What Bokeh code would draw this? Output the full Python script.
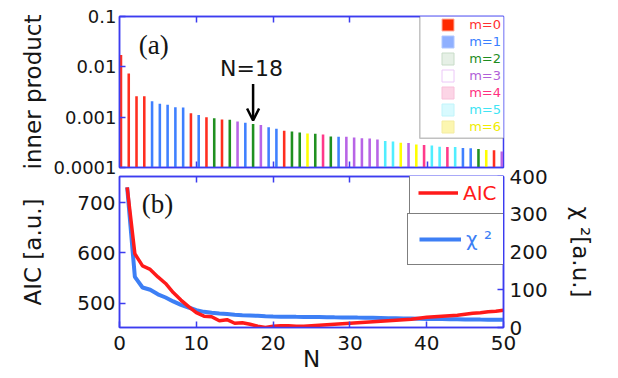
from bokeh.plotting import figure
from bokeh.layouts import column
from bokeh.models import (Range1d, LinearAxis, LogAxis, FixedTicker, Legend, LegendItem,
                          BoxAnnotation, Label, Arrow, OpenHead, ColumnDataSource)
from bokeh.embed import file_html
from bokeh.resources import INLINE

# ---------------- data: panel (a) ----------------
n_bars = list(range(1, 51))
inner_product = [0.0171, 0.00736, 0.00259, 0.00259, 0.00206, 0.00185, 0.00177, 0.00158, 0.00156, 0.0012,
                 0.00111, 0.001, 0.000955, 0.0009, 0.00089, 0.00082, 0.000775, 0.000728, 0.000695, 0.000628,
                 0.00059, 0.000538, 0.00052, 0.000496, 0.000472, 0.000466, 0.000451, 0.000411, 0.000406, 0.000406,
                 0.000393, 0.00038, 0.000375, 0.000358, 0.000337, 0.000327, 0.000312, 0.000308, 0.000288, 0.000281,
                 0.000275, 0.000259, 0.000256, 0.000256, 0.000244, 0.00024, 0.000233, 0.000223, 0.00022, 0.000209]
m_index = [0, 0, 0, 0, 1, 1, 1, 1, 1, 0,
           1, 0, 2, 0, 2, 3, 1, 2, 3, 1,
           1, 0, 2, 2, 6, 2, 4, 2, 1, 3,
           3, 3, 3, 3, 5, 5, 6, 3, 6, 4,
           5, 5, 4, 5, 1, 1, 2, 6, 0, 3]
m_labels = ["m=0", "m=1", "m=2", "m=3", "m=4", "m=5", "m=6"]
bar_palette = ["#ff2e1f", "#3f80ff", "#209020", "#b864e6", "#ff3a8a", "#50eeff", "#ffff00"]
swatch_fill = ["#ff2a00", "#8fb0ff", "#e6f0e6", "#ffffff", "#fcd5e6", "#d8fafe", "#fcf6b0"]
swatch_line = ["#ffb0a0", "#b0c8ff", "#c8dcc8", "#ecc8f8", "#f8c0da", "#c0f4fa", "#f4eca0"]
label_palette = ["#ff3030", "#3a80ff", "#1e8c1e", "#b060d8", "#ff3080", "#40e4f4", "#f0ec00"]
inner_ticks = [1e-4, 1e-3, 1e-2, 1e-1]
inner_tick_labels = ["0.0001", "0.001", "0.01", "0.1"]
top_x_ticks = [10.75, 20.63, 30.38, 40.47]

# ---------------- data: panel (b) ----------------
n_vals = list(range(1, 51))
aic = [730, 598, 574, 567, 552, 539, 521, 506, 493, 481,
       474, 473, 465, 467, 460, 461, 458, 454, 451.5, 454,
       455, 455, 454, 454, 455, 456, 457, 458, 459, 460,
       461, 462, 463, 464, 465, 466, 467, 468, 470, 472,
       473, 474, 475, 476, 478, 480, 481, 483, 484, 486]
chi2 = [371, 134, 106, 100, 88, 79.5, 69, 60, 53, 46,
        41.5, 39, 37, 35.5, 33.5, 32.5, 31.8, 31, 30, 29.3,
        28.8, 28.5, 28.2, 28, 27.8, 27.6, 27.3, 27, 26.8, 26.5,
        26.2, 26, 25.6, 25.2, 24.8, 24.4, 24, 23.6, 23.2, 22.8,
        22.5, 22.2, 22, 21.8, 21.5, 21.3, 21, 20.8, 20.6, 20.5]
n_ticks = [0, 10, 20, 30, 40, 50]
n_inner_ticks = [10, 20, 30, 40]
aic_ticks = [500, 600, 700]
chi_ticks = [0, 100, 200, 300, 400]

FRAME = "#3c3cf0"
FONT = "DejaVu Sans"


def style_axis(ax, size, standoff):
    ax.axis_line_color = FRAME
    ax.axis_line_width = 1.5
    ax.major_tick_line_color = FRAME
    ax.major_tick_line_width = 1.5
    ax.major_tick_in = 6
    ax.major_tick_out = 0
    ax.minor_tick_line_color = None
    ax.major_label_text_font = FONT
    ax.major_label_text_font_size = size
    ax.major_label_text_color = "#151515"
    ax.major_label_standoff = standoff
    ax.axis_label_text_font = FONT
    ax.axis_label_text_font_style = "normal"
    ax.axis_label_text_color = "#151515"
    ax.axis_label_text_font_size = "23px"


def ticks_only(ax, ticks):
    ax.ticker = FixedTicker(ticks=ticks)
    style_axis(ax, "1px", 0)
    ax.major_label_overrides = {t: "" for t in ticks}


# ---------------- panel (a) ----------------
top = figure(width=618, height=180, x_range=Range1d(0.81, 50.22), y_range=Range1d(1e-4, 0.1),
             y_axis_type="log", x_axis_location=None, y_axis_location=None,
             output_backend="svg", toolbar_location=None,
             min_border_left=118, min_border_right=115, min_border_top=16, min_border_bottom=13)
top.grid.visible = False
top.outline_line_color = FRAME
top.outline_line_width = 1.5
top.background_fill_color = "white"
top.border_fill_color = "white"

ly = LogAxis(ticker=FixedTicker(ticks=inner_ticks), axis_label="inner product")
style_axis(ly, "18px", 3)
ly.major_label_overrides = dict(zip(inner_ticks, inner_tick_labels))
ly.axis_label_standoff = 5
top.add_layout(ly, "left")
bx = LinearAxis()
ticks_only(bx, top_x_ticks)
top.add_layout(bx, "below")
ax_top = LinearAxis()
ticks_only(ax_top, top_x_ticks)
top.add_layout(ax_top, "above")

src = ColumnDataSource(dict(n=n_bars, v=inner_product, c=[bar_palette[m] for m in m_index]))
top.vbar(x="n", top="v", bottom=1e-4, width=0.33, fill_color="c", line_color=None, source=src)

legend_box = BoxAnnotation(left=300.3, right=385.3, bottom=29.3, top=155.3,
                           left_units="screen", right_units="screen",
                           top_units="screen", bottom_units="screen",
                           fill_color="white", fill_alpha=1.0,
                           line_color="#333333", line_width=1.5)
top.add_layout(legend_box)
nan = float("nan")
for k in range(7):
    r = top.vbar(x=[nan], top=[nan], bottom=1e-4, width=0.3,
                 fill_color=swatch_fill[k], line_color=swatch_line[k], line_width=1)
    leg = Legend(items=[LegendItem(label=m_labels[k], renderers=[r])],
                 location=(321.2, 135.2 - 17 * k), orientation="vertical",
                 glyph_width=15, glyph_height=15, label_height=15, label_standoff=14,
                 padding=0, margin=0, spacing=0,
                 border_line_alpha=0, background_fill_alpha=0,
                 label_text_font=FONT, label_text_font_size="13px",
                 label_text_color=label_palette[k])
    top.add_layout(leg)

top.add_layout(Label(x=3.3, y=0.0275, text="(a)", text_font="Liberation Serif",
                     text_font_size="27px", text_align="left", text_baseline="middle",
                     text_color="#151515"))
top.add_layout(Label(x=17.8, y=0.0093, text="N=18", text_font=FONT, text_font_size="22px",
                     text_align="center", text_baseline="middle", text_color="#151515"))
top.add_layout(Arrow(end=OpenHead(size=12, line_width=2.5, line_color="black"),
                     x_start=18, y_start=0.00457, x_end=18, y_end=0.00086,
                     line_width=2.5, line_color="black"))

# ---------------- panel (b) ----------------
bot = figure(width=618, height=218, x_range=Range1d(0, 50), y_range=Range1d(451.5, 751.7),
             x_axis_location=None, y_axis_location=None,
             output_backend="svg", toolbar_location=None,
             min_border_left=119, min_border_right=114, min_border_top=16, min_border_bottom=51)
bot.margin = (-20, 0, 0, 0)
bot.extra_y_ranges = {"chi": Range1d(0, 400)}
bot.grid.visible = False
bot.outline_line_color = FRAME
bot.outline_line_width = 1.5
bot.background_fill_color = "white"
bot.border_fill_alpha = 0

lax = LinearAxis(ticker=FixedTicker(ticks=aic_ticks), axis_label="AIC [a.u.]")
style_axis(lax, "20px", 4)
lax.axis_label_standoff = 28
bot.add_layout(lax, "left")

rax = LinearAxis(y_range_name="chi", ticker=FixedTicker(ticks=chi_ticks), axis_label="χ ²[a.u.]")
style_axis(rax, "20px", 6)
rax.axis_label_standoff = 17
bot.add_layout(rax, "right")

xax = LinearAxis(ticker=FixedTicker(ticks=n_ticks), axis_label="N")
style_axis(xax, "20px", 8)
xax.axis_label_standoff = -7
bot.add_layout(xax, "below")

tax = LinearAxis()
ticks_only(tax, n_inner_ticks)
bot.add_layout(tax, "above")

r_chi = bot.line(n_vals, chi2, y_range_name="chi", line_color="#3d7ff5", line_width=4)
r_aic = bot.line(n_vals, aic, line_color="#ff1a1a", line_width=3.5)

aic_leg = Legend(items=[LegendItem(label="AIC", renderers=[r_aic])], location=(290, 113.4),
                 padding=8, margin=0, glyph_width=40, glyph_height=21, label_height=21,
                 label_standoff=5, label_text_font=FONT, label_text_font_size="20px",
                 label_text_color="#ff1a1a", border_line_color="black", border_line_width=1.2,
                 background_fill_color="white", background_fill_alpha=1.0)
chi_leg = Legend(items=[LegendItem(label="χ ²", renderers=[r_chi])], location=(288, 62.4),
                 padding=11, margin=0, glyph_width=42, glyph_height=28, label_height=28,
                 label_standoff=5, label_text_font=FONT, label_text_font_size="20px",
                 label_text_color="#3d7ff5", border_line_color="black", border_line_width=1.2,
                 background_fill_color="white", background_fill_alpha=1.0)
bot.add_layout(aic_leg)
bot.add_layout(chi_leg)

bot.add_layout(Label(x=2.9, y=698, text="(b)", text_font="Liberation Serif",
                     text_font_size="27px", text_align="left", text_baseline="middle",
                     text_color="#151515"))

layout = column(top, bot)
open("out.html", "w").write(file_html(layout, INLINE))
